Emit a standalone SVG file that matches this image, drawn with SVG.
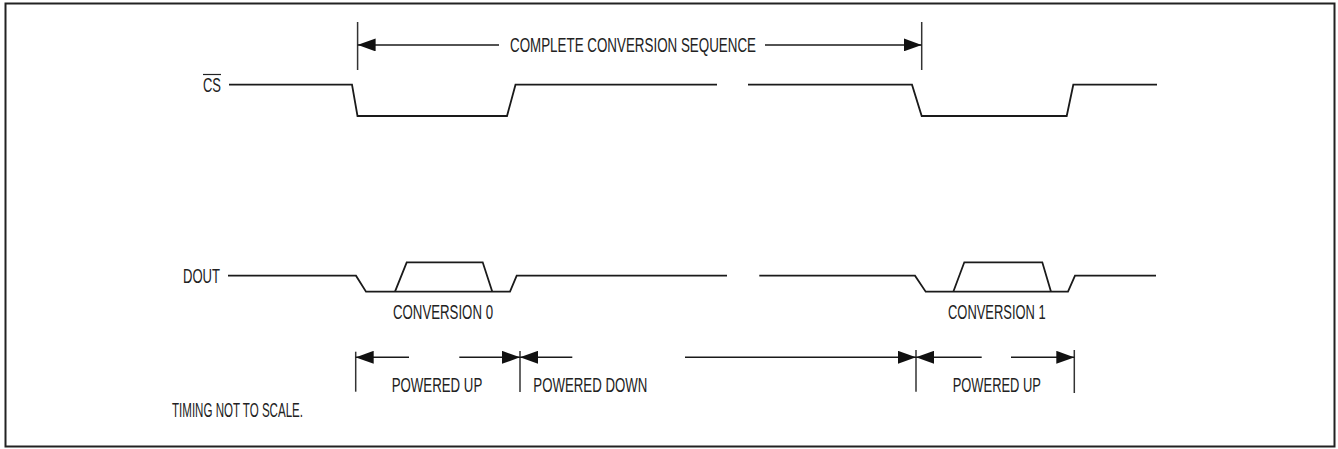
<svg xmlns="http://www.w3.org/2000/svg" width="1338" height="449" viewBox="0 0 1338 449">
<style>
.sig{fill:none;stroke:#1a1a1a;stroke-width:1.8;stroke-linejoin:miter}
.dim{fill:none;stroke:#1a1a1a;stroke-width:1.5}
.bar{fill:none;stroke:#333;stroke-width:1.5}
.t{font-family:"Liberation Sans",Arial,sans-serif;font-size:20.5px;fill:#222}
</style>
<defs>
<marker id="ah" viewBox="0 0 18 13" markerUnits="userSpaceOnUse" markerWidth="18" markerHeight="13" refX="18" refY="6.5" orient="auto-start-reverse">
<path d="M0,0 L18,6.5 L0,13 z" fill="#111"/>
</marker>
</defs>
<rect x="5.5" y="3.5" width="1329" height="443" fill="#fff" stroke="#222" stroke-width="2"/>

<g id="cs">
<text class="t" x="203" y="92.3" textLength="18" lengthAdjust="spacingAndGlyphs">CS</text>
<line x1="203" y1="74.5" x2="221" y2="74.5" stroke="#222" stroke-width="1.2"/>
<polyline class="sig" points="229,84.7 352,84.7 357.5,116 507,116 515.5,84.7 717,84.7"/>
<polyline class="sig" points="748,84.7 912,84.7 921.7,116 1066.7,116 1073.3,84.7 1157,84.7"/>
</g>

<g id="dout">
<text class="t" x="183" y="283" textLength="37" lengthAdjust="spacingAndGlyphs">DOUT</text>
<polyline class="sig" points="228,275.7 356,275.7 366,291.7 510,291.7 516.7,275.7 727,275.7"/>
<polyline class="sig" points="395,291.7 406.7,262.3 482.7,262.3 492.3,291.7"/>
<polyline class="sig" points="759.3,275.7 915,275.7 925.7,291.7 1068,291.7 1075,275.7 1156,275.7"/>
<polyline class="sig" points="953.3,291.7 964.3,262.3 1042.3,262.3 1051,291.7"/>
<text class="t" x="393" y="319" textLength="100" lengthAdjust="spacingAndGlyphs">CONVERSION 0</text>
<text class="t" x="948" y="319" textLength="97.7" lengthAdjust="spacingAndGlyphs">CONVERSION 1</text>
</g>

<g id="connectors">
<line class="bar" x1="357.6" y1="22" x2="357.6" y2="70"/>
<line class="bar" x1="921.7" y1="22" x2="921.7" y2="70"/>
<line class="dim" x1="499" y1="44.9" x2="357.6" y2="44.9" marker-end="url(#ah)"/>
<line class="dim" x1="765" y1="44.9" x2="921.7" y2="44.9" marker-end="url(#ah)"/>
<text class="t" x="510" y="52.3" textLength="246" lengthAdjust="spacingAndGlyphs">COMPLETE CONVERSION SEQUENCE</text>

<line class="bar" x1="355.7" y1="351.7" x2="355.7" y2="391.7"/>
<line class="bar" x1="520" y1="351" x2="520" y2="392"/>
<line class="bar" x1="916" y1="350" x2="916" y2="391.7"/>
<line class="bar" x1="1074.3" y1="350" x2="1074.3" y2="393"/>
<line class="dim" x1="409" y1="357.3" x2="355.7" y2="357.3" marker-end="url(#ah)"/>
<line class="dim" x1="459.3" y1="357.3" x2="520" y2="357.3" marker-end="url(#ah)"/>
<line class="dim" x1="572.3" y1="357.3" x2="520" y2="357.3" marker-end="url(#ah)"/>
<line class="dim" x1="685" y1="357.3" x2="916" y2="357.3" marker-end="url(#ah)"/>
<line class="dim" x1="981.7" y1="357.3" x2="916" y2="357.3" marker-end="url(#ah)"/>
<line class="dim" x1="1011" y1="357.3" x2="1074.3" y2="357.3" marker-end="url(#ah)"/>
</g>

<g id="labels">
<text class="t" x="391.7" y="391.8" textLength="90.6" lengthAdjust="spacingAndGlyphs">POWERED UP</text>
<text class="t" x="533.3" y="391.8" textLength="114" lengthAdjust="spacingAndGlyphs">POWERED DOWN</text>
<text class="t" x="952.7" y="391.8" textLength="88.3" lengthAdjust="spacingAndGlyphs">POWERED UP</text>
<text class="t" x="172" y="417" textLength="131" lengthAdjust="spacingAndGlyphs">TIMING NOT TO SCALE.</text>
</g>
</svg>
